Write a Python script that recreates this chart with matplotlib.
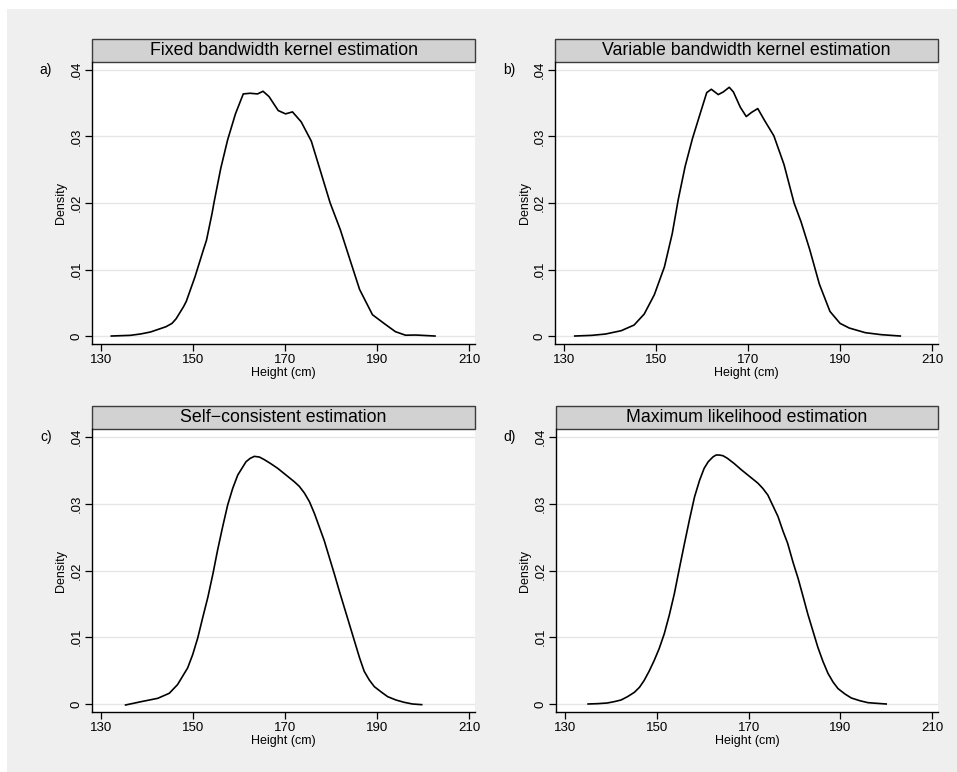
import matplotlib
matplotlib.use("Agg")
import matplotlib.pyplot as plt
from matplotlib.patches import Rectangle

plt.rcParams['font.family'] = ['Liberation Sans', 'DejaVu Sans']

# ---- data ----
titles = ["Fixed bandwidth kernel estimation",
          "Variable bandwidth kernel estimation",
          "Self\u2212consistent estimation",
          "Maximum likelihood estimation"]
panel_labels = ["a)", "b)", "c)", "d)"]

x_fixed = [132.2, 136.3, 138.5, 140.7, 144.1, 145.4, 146.3, 147.9, 148.5, 150.4, 152.2, 152.9,
           154.1, 154.6, 156.0, 157.5, 159.2, 160.9, 162.4, 164.0, 165.2, 166.5, 168.5, 170.1,
           171.6, 173.5, 175.7, 177.6, 179.8, 182.0, 184.0, 186.2, 189.0, 191.8, 194.0, 196.2,
           198.4, 202.6]
y_fixed = [0.0, 0.0001, 0.0003, 0.0006, 0.0014, 0.0019, 0.0026, 0.0044, 0.0052, 0.0089, 0.0129, 0.0144,
           0.0184, 0.0203, 0.0252, 0.0295, 0.0334, 0.0364, 0.0365, 0.0364, 0.0368, 0.0360, 0.0339, 0.0334,
           0.0337, 0.0322, 0.0293, 0.0250, 0.0200, 0.0160, 0.0117, 0.0070, 0.0032, 0.00175, 0.00065, 0.00012,
           0.00015, 0.0]

x_var = [132.3, 136.0, 139.0, 142.4, 145.2, 147.4, 149.6, 151.8, 153.5, 154.8, 156.3, 157.9,
         159.6, 161.0, 162.0, 163.5, 164.6, 165.9, 166.8, 168.3, 169.6, 170.7, 172.1, 173.5,
         175.6, 177.8, 180.0, 181.5, 183.4, 185.5, 187.8, 190.0, 192.0, 195.5, 199.0, 203.1]
y_var = [0.0, 0.0001, 0.0003, 0.0008, 0.00165, 0.0033, 0.0062, 0.0104, 0.0154, 0.0205, 0.0255, 0.0297,
         0.0335, 0.0366, 0.0371, 0.0363, 0.0367, 0.0374, 0.0367, 0.0344, 0.0330, 0.0336, 0.0342, 0.0325,
         0.0301, 0.0258, 0.0200, 0.0172, 0.0130, 0.0078, 0.0037, 0.0019, 0.0012, 0.0005, 0.0002, 0.0]

x_sc = [135.3, 138.7, 142.3, 144.8, 146.6, 148.8, 149.9, 151.0, 152.1, 153.2, 154.3, 155.3,
        156.4, 157.5, 158.6, 159.7, 161.5, 162.4, 163.3, 164.4, 165.5, 166.9, 168.4, 170.2,
        172.0, 173.1, 174.2, 175.3, 176.4, 178.5, 179.6, 180.7, 181.8, 182.9, 184.0, 185.1,
        186.2, 187.2, 188.3, 189.4, 190.9, 192.3, 194.1, 195.9, 197.7, 199.7]
y_sc = [-0.00015, 0.00035, 0.00085, 0.0016, 0.0029, 0.0054, 0.0074, 0.0099, 0.0130, 0.0160, 0.0195, 0.0230,
        0.0265, 0.0298, 0.0323, 0.0343, 0.0363, 0.0368, 0.0371, 0.0370, 0.0366, 0.0360, 0.0353, 0.0343,
        0.0333, 0.0326, 0.0316, 0.0303, 0.0285, 0.0245, 0.0220, 0.0195, 0.0169, 0.0144, 0.0119, 0.0094,
        0.0069, 0.0049, 0.0036, 0.0026, 0.0018, 0.0011, 0.0006, 0.00025, 0.0, -0.0001]

x_ml = [135.0, 137.1, 139.2, 140.7, 142.2, 143.6, 145.1, 146.2, 147.2, 148.3, 149.4, 150.5,
        151.6, 152.7, 153.8, 154.9, 156.0, 157.1, 158.2, 159.3, 160.3, 161.2, 162.2, 162.9,
        163.6, 164.4, 165.4, 166.9, 168.4, 170.2, 172.0, 173.1, 174.2, 175.3, 176.4, 177.5,
        178.5, 179.7, 180.8, 181.8, 182.9, 184.0, 185.1, 186.2, 187.3, 188.4, 189.5, 191.0,
        192.4, 194.2, 196.0, 197.9, 200.0]
y_ml = [0.0, 0.00005, 0.00015, 0.00035, 0.0006, 0.0011, 0.00175, 0.0025, 0.0035, 0.0049, 0.0065, 0.0083,
        0.0105, 0.0133, 0.0165, 0.0203, 0.0240, 0.0276, 0.0310, 0.0335, 0.0353, 0.0363, 0.0370, 0.0373,
        0.0373, 0.0372, 0.0368, 0.0360, 0.0351, 0.0341, 0.0331, 0.0323, 0.0313, 0.0297, 0.0281, 0.0259,
        0.0241, 0.0212, 0.0188, 0.0163, 0.0135, 0.0110, 0.0085, 0.0064, 0.0046, 0.0033, 0.0023, 0.0015,
        0.0009, 0.0005, 0.0002, 0.0001, 0.0]

x_ticks = [130, 150, 170, 190, 210]
y_ticks = [0, 0.01, 0.02, 0.03, 0.04]
y_ticklabels = ["0", ".01", ".02", ".03", ".04"]

series = [(x_fixed, y_fixed), (x_var, y_var), (x_sc, y_sc), (x_ml, y_ml)]

W, H = 957, 772
fig = plt.figure(figsize=(W / 100, H / 100), dpi=100, facecolor="white")
fig.patches.append(Rectangle((7 / W, 0), 1 - 7 / W, 1 - 9 / H, transform=fig.transFigure,
                             facecolor="#efefef", edgecolor="none", zorder=-10))

# axes boxes in pixels: (left, right, top, bottom)
boxes = [(92, 475, 62, 344), (555, 938, 62, 344), (92, 475, 429, 712), (556, 938, 429, 712)]
title_h = 23

for i, (l, r, t, b) in enumerate(boxes):
    ax = fig.add_axes([l / W, 1 - b / H, (r - l) / W, (b - t) / H])
    ax.set_facecolor("white")
    xs, ys = series[i]
    ax.plot(xs, ys, color="black", lw=1.2, solid_joinstyle="round")
    ax.set_xlim(128.0, 211.3)
    ax.set_ylim(-0.0012, 0.0412)
    ax.set_xticks(x_ticks)
    ax.set_xticklabels([str(v) for v in x_ticks])
    ax.set_yticks(y_ticks)
    ax.set_yticklabels(y_ticklabels, rotation=90, va="center")
    ax.grid(axis="y", color="#e6e6e6", lw=1.0)
    ax.set_axisbelow(True)
    for s in ["top", "right"]:
        ax.spines[s].set_visible(False)
    for s in ["left", "bottom"]:
        ax.spines[s].set_color("black")
        ax.spines[s].set_linewidth(1.0)
    ax.tick_params(axis="both", direction="out", length=5, width=0.9, labelsize=9.5, pad=2,
                   color="black")
    ax.set_xlabel("Height (cm)", fontsize=9, labelpad=1)
    ax.set_ylabel("Density", fontsize=9, labelpad=2)
    hfrac = title_h / (b - t)
    ax.add_patch(Rectangle((0, 1), 1, hfrac, transform=ax.transAxes, facecolor="#d2d2d2",
                           edgecolor="#3c3c3c", lw=1.0, clip_on=False))
    ax.text(0.5, 1 + hfrac / 2, titles[i], transform=ax.transAxes, ha="center", va="center",
            fontsize=12.8)
    fig.text((l - 46) / W, 1 - (t + 8) / H, panel_labels[i], ha="center", va="center", fontsize=10)

fig.savefig("out.png", dpi=100, facecolor=fig.get_facecolor())
